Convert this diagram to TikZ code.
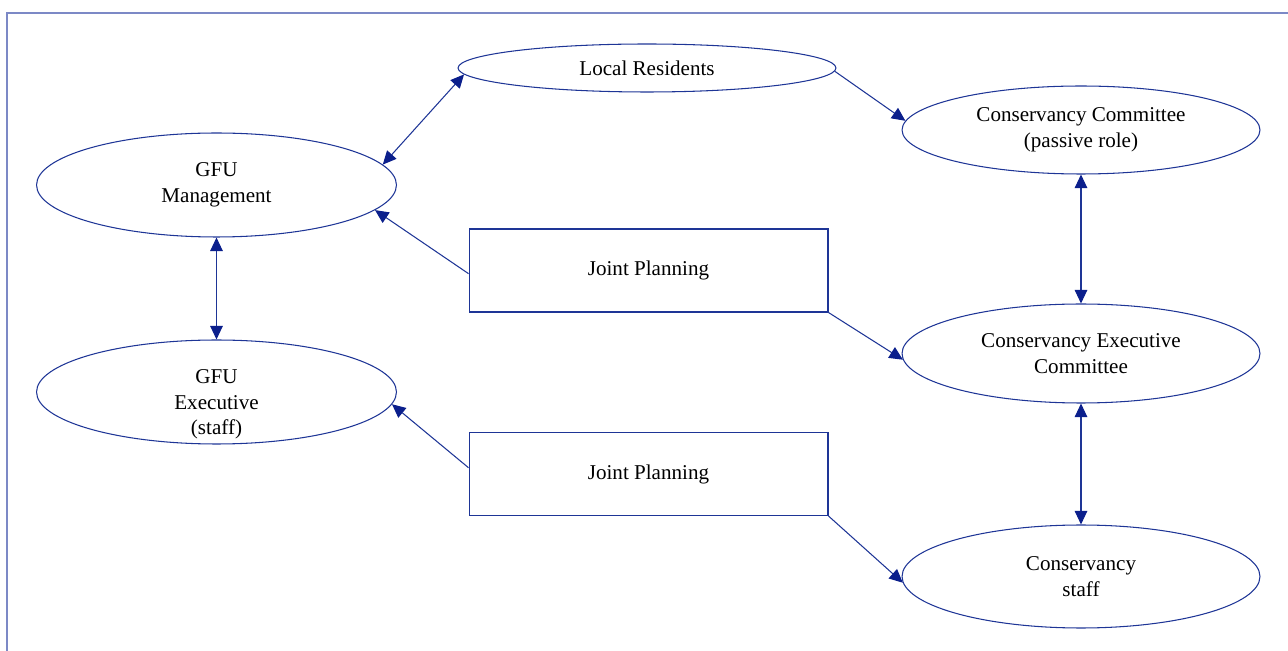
\documentclass[tikz,border=0pt]{standalone}
\usepackage{fontspec}
\setmainfont{Liberation Serif}
\usepackage{tikz}
\usetikzlibrary{shapes.geometric,arrows.meta}
\definecolor{lineblue}{HTML}{1E3596}
\definecolor{tipblue}{HTML}{0B1F8C}
\definecolor{frameblue}{HTML}{7C89C6}

\begin{document}
\begin{tikzpicture}[x=0.02cm, y=-0.02cm,
    every node/.style={font=\fontsize{12}{14.5}\selectfont, align=center, inner sep=0pt},
    bubble/.style={ellipse, draw=lineblue, line width=0.6pt, minimum width=7.2cm},
    planbox/.style={rectangle, draw=lineblue, line width=0.6pt, minimum width=7.18cm, minimum height=1.66cm},
    link/.style={draw=lineblue, line width=0.6pt, -{Triangle[length=0.27cm, width=0.25cm, color=tipblue]}},
    twoway/.style={draw=lineblue, line width=0.6pt, {Triangle[length=0.27cm, width=0.25cm, color=tipblue]}-{Triangle[length=0.27cm, width=0.25cm, color=tipblue]}}]

    % page and frame
    \clip (0,0) rectangle (1288,651);
    \draw[frameblue, line width=1.1pt] (7,13) rectangle (1320,680);

    % left column
    \node[bubble, minimum height=2.08cm] (gfum) at (216.5,185) {GFU\\Management};
    \node[bubble, minimum height=2.08cm] (gfue) at (216.5,392)
        {\raisebox{-0.35cm}[0.7cm][0.7cm]{\begin{tabular}{@{}c@{}}GFU\\Executive\\(staff)\end{tabular}}};

    % middle
    \node[bubble, minimum width=7.56cm, minimum height=0.96cm] (res) at (647,68) {Local Residents};
    \node[planbox] (jp1) at (648.5,270.5) {Joint Planning};
    \node[planbox] (jp2) at (648.5,474) {Joint Planning};

    % right column
    \node[bubble, minimum width=7.16cm, minimum height=1.76cm] (cc) at (1081,130) {Conservancy Committee\\(passive role)};
    \node[bubble, minimum width=7.16cm, minimum height=1.98cm] (ce) at (1081,353.5) {Conservancy Executive\\Committee};
    \node[bubble, minimum width=7.16cm, minimum height=2.06cm] (cs) at (1081,576.5) {Conservancy\\staff};

    % connectors
    \draw[twoway] (res.182) -- (gfum.7);
    \draw[link] (res.359) -- (cc.177);
    \draw[link] (jp1.181.5) -- (gfum.351);
    \draw[link] (jp1.south east) -- (ce.182);
    \draw[twoway] (gfum.south) -- (gfue.north);
    \draw[twoway] (cc.south) -- (ce.north);
    \draw[twoway] (ce.south) -- (cs.north);
    \draw[link] (jp2.178.7) -- (gfue.356.5);
    \draw[link] (jp2.south east) -- (cs.182);
\end{tikzpicture}
\end{document}
